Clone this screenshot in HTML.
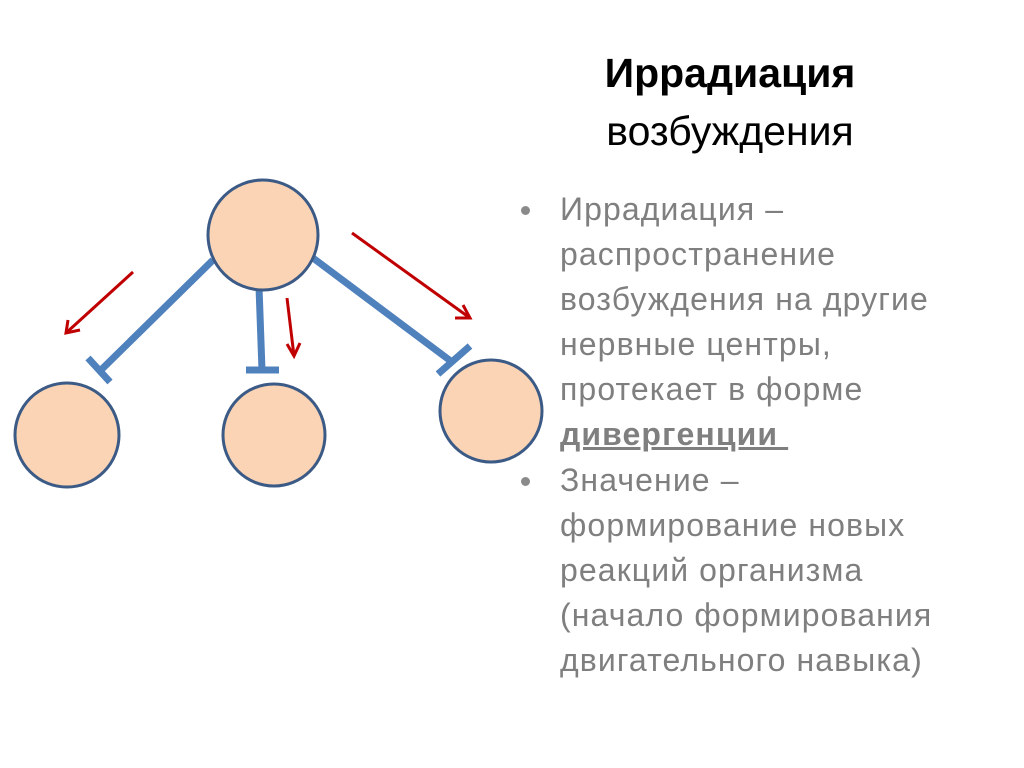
<!DOCTYPE html>
<html><head><meta charset="utf-8"><style>
body{margin:0;width:1024px;height:768px;background:#fff;position:relative;overflow:hidden;font-family:"Liberation Sans","DejaVu Sans",sans-serif}
.t{position:absolute;left:480px;width:500px;text-align:center;color:#000;font-size:41px;line-height:48px}
.b{position:absolute;left:560px;color:#7f7f7f;font-size:32px;letter-spacing:1.1px;line-height:45px;white-space:nowrap}
.dot{position:absolute;left:521px;width:9px;height:9px;border-radius:50%;background:#8a8a8a}
</style></head><body>
<svg width="1024" height="768" style="position:absolute;left:0;top:0">
<g stroke="#4f81bd" stroke-width="7" fill="none">
<line x1="213" y1="260" x2="101" y2="370"/><line x1="88" y1="358" x2="110" y2="382"/>
<line x1="259" y1="287" x2="262" y2="370"/><line x1="246" y1="370" x2="279" y2="370"/>
<line x1="313" y1="258" x2="452" y2="362"/><line x1="438" y1="374" x2="470" y2="346"/>
</g>
<g stroke="#c00000" stroke-width="3" fill="none">
<line x1="133" y1="272" x2="66" y2="333"/><polyline points="68,320 66,333 80,330"/>
<line x1="287" y1="298" x2="294" y2="356"/><polyline points="287,344 294,356 300,343"/>
<line x1="352" y1="233" x2="470" y2="318"/><polyline points="463,305 470,318 455,318"/>
</g>
<g fill="#fad4b4" stroke="#3b5a86" stroke-width="3">
<circle cx="263" cy="235" r="55"/>
<circle cx="67" cy="435" r="52"/>
<circle cx="274" cy="435" r="51"/>
<circle cx="491" cy="411" r="51"/>
</g>
</svg>
<div class="t" style="top:49px;font-weight:bold">Иррадиация</div>
<div class="t" style="top:107px">возбуждения</div>
<div class="dot" style="top:206px"></div>
<div class="b" style="top:187px">Иррадиация –<br>распространение<br>возбуждения на другие<br>нервные центры,<br>протекает в форме<br><b style="text-decoration:underline">дивергенции&nbsp;</b></div>
<div class="dot" style="top:477px"></div>
<div class="b" style="top:458px">Значение –<br>формирование новых<br>реакций организма<br>(начало формирования<br>двигательного навыка)</div>
</body></html>
